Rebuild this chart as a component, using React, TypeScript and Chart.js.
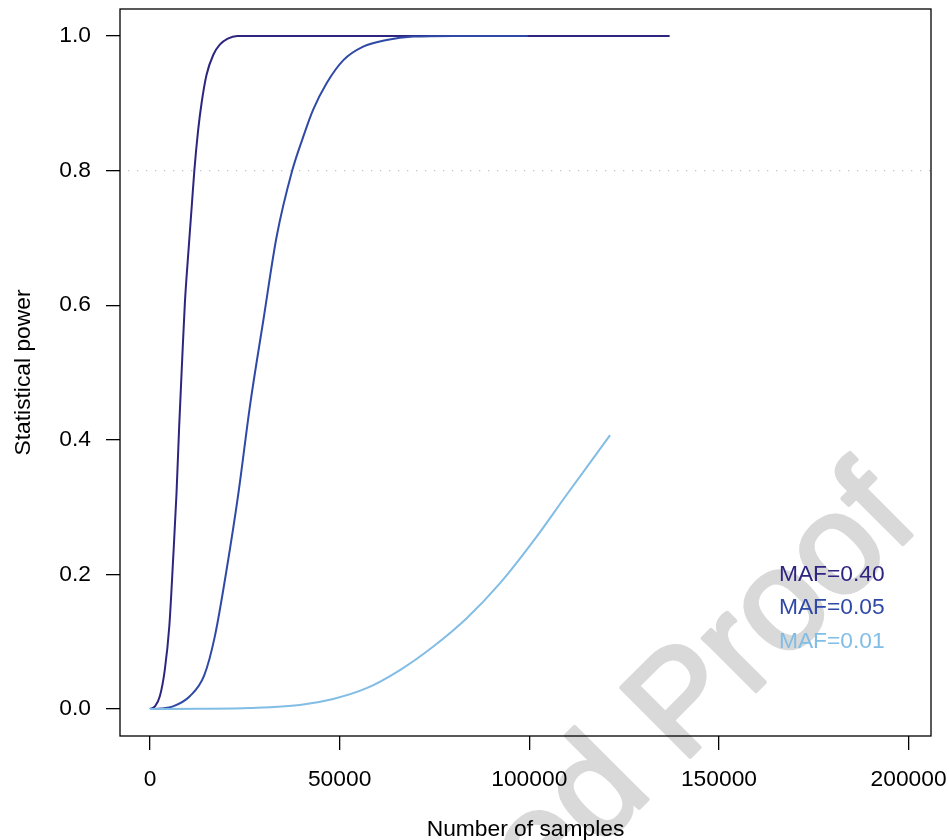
import React, { useEffect, useRef } from "react";
import { Chart, registerables } from "chart.js";

Chart.register(...registerables);

// ---- data ----
const xTicks = [0, 50000, 100000, 150000, 200000];
const yTicks = [0, 0.2, 0.4, 0.6, 0.8, 1.0];

const maf40N = [0, 1300, 2600, 3900, 5100, 6100, 7000, 7700, 8500, 9200, 10100, 11000, 11700, 12700, 13600, 14900, 16700, 18400, 20500, 23000, 137000];
const maf40Power = [0, 0.004, 0.019, 0.058, 0.123, 0.222, 0.321, 0.42, 0.52, 0.603, 0.677, 0.746, 0.8, 0.86, 0.9, 0.942, 0.972, 0.987, 0.996, 1.0, 1.0];

const maf05N = [0, 3000, 6100, 10500, 14300, 17100, 20200, 23300, 26400, 29900, 33400, 37500, 40400, 43000, 46600, 51000, 56200, 62400, 69400, 80000, 99600];
const maf05Power = [0, 0.001, 0.004, 0.019, 0.05, 0.108, 0.207, 0.32, 0.452, 0.578, 0.702, 0.8, 0.85, 0.89, 0.93, 0.964, 0.984, 0.994, 0.999, 1.0, 1.0];

const maf01N = [0, 13000, 26400, 39500, 48300, 57100, 65900, 74700, 83500, 92300, 101000, 109800, 121300];
const maf01Power = [0, 0.0003, 0.0015, 0.006, 0.015, 0.031, 0.058, 0.093, 0.135, 0.187, 0.249, 0.318, 0.407];

const seriesLabels = ["MAF=0.40", "MAF=0.05", "MAF=0.01"];
const seriesColors = ["#2e2580", "#2f49a6", "#82bde5"];
const labelYValues = [0.2, 0.15, 0.1];
const labelXValue = 165800;
const powerThreshold = 0.8;

const xTitle = "Number of samples";
const yTitle = "Statistical power";
const watermarkLead = "Uncorrected ";
const watermarkTail = "Proof";

const FONT = "'Liberation Sans', Arial, Helvetica, sans-serif";
const FS = 22.8;

const toPoints = (xs: number[], ys: number[]) => xs.map((x, i) => ({ x, y: ys[i] }));

export default function App() {
  const ref = useRef<HTMLCanvasElement | null>(null);

  useEffect(() => {
    document.body.style.margin = "0";
    const canvas = ref.current;
    if (!canvas) return;

    const watermarkPlugin = {
      id: "watermark",
      beforeDraw(chart: any) {
        const ctx = chart.ctx;
        ctx.save();
        ctx.translate(682, 765);
        ctx.rotate(-Math.PI / 4);
        ctx.font = `142px ${FONT}`;
        ctx.fillStyle = "rgb(217,217,217)";
        ctx.strokeStyle = "rgb(217,217,217)";
        ctx.lineWidth = 4;
        ctx.lineJoin = "round";
        ctx.textBaseline = "alphabetic";
        ctx.textAlign = "left";
        ctx.fillText(watermarkTail, 0, 0);
        ctx.strokeText(watermarkTail, 0, 0);
        ctx.textAlign = "right";
        ctx.fillText(watermarkLead, 0, 0);
        ctx.strokeText(watermarkLead, 0, 0);
        ctx.restore();
      },
    };

    const decorPlugin = {
      id: "decor",
      beforeDatasetsDraw(chart: any) {
        const { ctx, chartArea, scales } = chart;
        const y = scales.y.getPixelForValue(powerThreshold);
        ctx.save();
        ctx.strokeStyle = "#c4c4c4";
        ctx.lineWidth = 1.3;
        ctx.setLineDash([1.3, 7.7]);
        ctx.beginPath();
        ctx.moveTo(chartArea.left + 8, y);
        ctx.lineTo(chartArea.right, y);
        ctx.stroke();
        ctx.restore();
      },
      afterDraw(chart: any) {
        const { ctx, chartArea, scales } = chart;
        ctx.save();
        ctx.strokeStyle = "#000";
        ctx.lineWidth = 1.3;
        ctx.strokeRect(chartArea.left, chartArea.top, chartArea.right - chartArea.left, chartArea.bottom - chartArea.top);
        ctx.font = `${FS}px ${FONT}`;
        ctx.textAlign = "left";
        ctx.textBaseline = "middle";
        seriesLabels.forEach((lab, i) => {
          ctx.fillStyle = seriesColors[i];
          ctx.fillText(lab, scales.x.getPixelForValue(labelXValue), scales.y.getPixelForValue(labelYValues[i]));
        });
        ctx.restore();
      },
    };

    const series = [
      toPoints(maf40N, maf40Power),
      toPoints(maf05N, maf05Power),
      toPoints(maf01N, maf01Power),
    ];

    const chart = new Chart(canvas, {
      type: "scatter",
      data: {
        datasets: series
          .map((data, i) => ({
            label: seriesLabels[i],
            data,
            showLine: true,
            borderColor: seriesColors[i],
            backgroundColor: seriesColors[i],
            borderWidth: 2,
            pointRadius: 0,
            cubicInterpolationMode: "monotone" as const,
          }))
          .reverse(),
      },
      options: {
        animation: false,
        responsive: false,
        maintainAspectRatio: false,
        devicePixelRatio: 1,
        layout: { padding: { left: 0, right: 18, top: 9, bottom: 0 } },
        plugins: { legend: { display: false }, tooltip: { enabled: false } },
        scales: {
          x: {
            type: "linear",
            min: -7900,
            max: 205900,
            afterBuildTicks: (s: any) => {
              s.ticks = xTicks.map((v) => ({ value: v }));
            },
            afterFit: (s: any) => {
              s.height = 104;
              s.paddingLeft = 0;
              s.paddingRight = 0;
            },
            border: { display: false },
            grid: { drawOnChartArea: false, drawTicks: true, tickLength: 14, tickColor: "#000", lineWidth: 1.3 },
            ticks: {
              color: "#000",
              padding: 16,
              maxRotation: 0,
              autoSkip: false,
              font: { family: FONT, size: FS },
              callback: (v: any) => String(v),
            },
            title: {
              display: true,
              text: xTitle,
              color: "#000",
              font: { family: FONT, size: FS, lineHeight: 1 },
              padding: { top: 0, bottom: -1.2 },
            },
          },
          y: {
            type: "linear",
            min: -0.04,
            max: 1.04,
            afterBuildTicks: (s: any) => {
              s.ticks = yTicks.map((v) => ({ value: v }));
            },
            afterFit: (s: any) => {
              s.width = 120;
              s.paddingTop = 0;
              s.paddingBottom = 0;
            },
            border: { display: false },
            grid: { drawOnChartArea: false, drawTicks: true, tickLength: 14, tickColor: "#000", lineWidth: 1.3 },
            ticks: {
              color: "#000",
              padding: 15,
              autoSkip: false,
              font: { family: FONT, size: FS },
              callback: (v: any) => Number(v).toFixed(1),
            },
            title: {
              display: true,
              text: yTitle,
              color: "#000",
              font: { family: FONT, size: FS, lineHeight: 1 },
              padding: { top: 12.4, bottom: 0 },
            },
          },
        },
      },
      plugins: [watermarkPlugin, decorPlugin],
    });

    return () => chart.destroy();
  }, []);

  return (
    <div style={{ width: 949, height: 840, background: "#fff" }}>
      <canvas ref={ref} width={949} height={840} style={{ display: "block" }} />
    </div>
  );
}
